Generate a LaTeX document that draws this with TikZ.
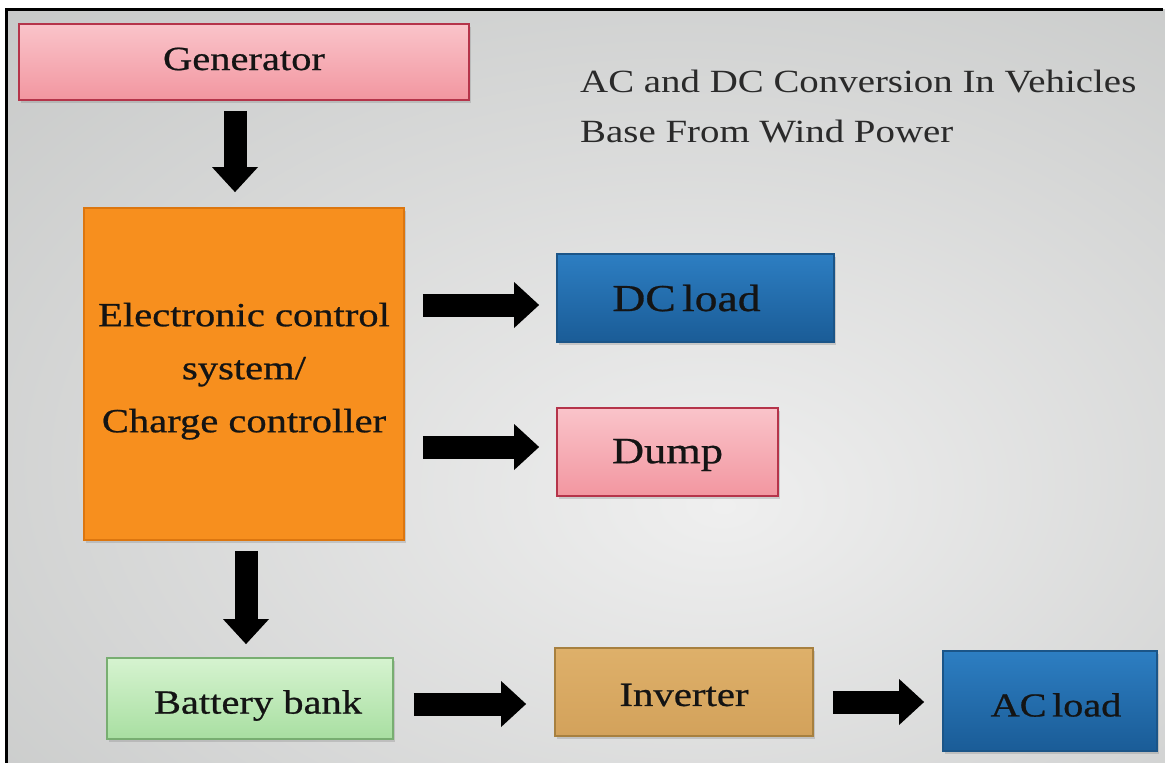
\documentclass[tikz,border=0pt]{standalone}
\usepackage{fontspec}
\setmainfont{Liberation Serif}[FakeStretch=1.2]
\newfontfamily\boxfont{Liberation Serif}[FakeStretch=1.2,FakeBold=0.7]
\usetikzlibrary{arrows.meta,shadows}
\definecolor{bgin}{HTML}{EFEFEF}
\definecolor{bgout}{HTML}{BCBEBD}
\definecolor{pinktop}{HTML}{FAC4CA}
\definecolor{pinkbot}{HTML}{F296A0}
\definecolor{pinkborder}{HTML}{B5344A}
\definecolor{orangefill}{HTML}{F78F1E}
\definecolor{orangeborder}{HTML}{DC760F}
\definecolor{bluetop}{HTML}{2D7EC2}
\definecolor{bluebot}{HTML}{1A5C97}
\definecolor{blueborder}{HTML}{1B5588}
\definecolor{greentop}{HTML}{D6F3D0}
\definecolor{greenbot}{HTML}{A8DFA1}
\definecolor{greenborder}{HTML}{78AE71}
\definecolor{tantop}{HTML}{DEB06A}
\definecolor{tanbot}{HTML}{D3A25B}
\definecolor{tanborder}{HTML}{A7803F}
\definecolor{titlegray}{HTML}{2A2A2A}
\definecolor{boxtext}{HTML}{141414}
\pgfdeclareradialshading{bgshade}{\pgfpoint{6bp}{-8bp}}{color(0bp)=(bgin); color(52bp)=(bgout); color(80bp)=(bgout)}
\newcommand\shiftv[2]{\raisebox{#1}[\height][\depth]{#2}}
\tikzset{
  boxbase/.style={draw, line width=1.8pt, inner sep=0pt, text=boxtext,
    drop shadow={opacity=0.3, shadow xshift=1.5pt, shadow yshift=-3pt}},
  pinkbox/.style={boxbase, draw=pinkborder, top color=pinktop, bottom color=pinkbot},
  orangebox/.style={boxbase, draw=orangeborder, fill=orangefill},
  bluebox/.style={boxbase, draw=blueborder, top color=bluetop, bottom color=bluebot},
  greenbox/.style={boxbase, draw=greenborder, top color=greentop, bottom color=greenbot},
  tanbox/.style={boxbase, draw=tanborder, top color=tantop, bottom color=tanbot},
  flow/.style={black, line width=23pt, line cap=butt,
    -{Triangle[length=25pt,width=46pt,line width=0pt]}},
}
\begin{document}
\begin{tikzpicture}[x=1pt,y=-1pt]
\useasboundingbox (0,0) rectangle (1165,763);
\fill[white] (0,0) rectangle (1165,763);
\shade[shading=bgshade] (6,9) rectangle (1165,763);
\draw[line width=3pt] (6,763) -- (6,9) -- (1163,9);

\node[anchor=north west, align=left, inner sep=0pt, text=titlegray,
  font=\fontsize{32.4}{50}\selectfont] (title) at (580,70)
  {AC and DC Conversion In Vehicles\\Base From Wind Power};

\node[pinkbox, minimum width=450pt, minimum height=76pt,
  font=\boxfont\fontsize{33.75}{40}\selectfont] (gen) at (244,62) {\shiftv{3pt}{Generator}};
\node[orangebox, minimum width=320pt, minimum height=332pt, align=center,
  font=\boxfont\fontsize{33.8}{53}\selectfont] (ecs) at (244,374)
  {Electronic control\\system/\\Charge controller\\[-40pt]\mbox{}};
\node[bluebox, minimum width=277pt, minimum height=88pt,
  font=\boxfont\fontsize{38}{44}\selectfont] (dc) at (695.5,298) {\hspace{-18pt}DC\,load};
\node[pinkbox, minimum width=221pt, minimum height=88pt,
  font=\boxfont\fontsize{37}{44}\selectfont] (dump) at (667.5,452) {\shiftv{-3pt}{Dump}};
\node[greenbox, minimum width=286pt, minimum height=81pt,
  font=\boxfont\fontsize{33.75}{40}\selectfont] (bat) at (250,698.5) {\hspace{16pt}\shiftv{-7pt}{Battery bank}};
\node[tanbox, minimum width=258pt, minimum height=88pt,
  font=\boxfont\fontsize{34}{40}\selectfont] (inv) at (684,692) {\shiftv{-3pt}{Inverter}};
\node[bluebox, minimum width=214pt, minimum height=100pt,
  font=\boxfont\fontsize{33.5}{40}\selectfont] (ac) at (1050,701) {\hspace{12pt}\shiftv{-4pt}{AC\,load}};

\draw[flow, shorten <=10pt, shorten >=15pt] (235,0 |- gen.south) -- (235,0 |- ecs.north);
\draw[flow, shorten <=18pt, shorten >=17pt] (ecs.east |- 0,305) -- (dc.west |- 0,305);
\draw[flow, shorten <=18pt, shorten >=17pt] (ecs.east |- 0,447) -- (dump.west |- 0,447);
\draw[flow, shorten <=10pt, shorten >=13pt] (246,0 |- ecs.south) -- (246,0 |- bat.north);
\draw[flow, shorten <=20pt, shorten >=28pt] (bat.east |- 0,704) -- (inv.west |- 0,704);
\draw[flow, shorten <=19pt, shorten >=18pt] (inv.east |- 0,702) -- (ac.west |- 0,702);
\end{tikzpicture}
\end{document}
